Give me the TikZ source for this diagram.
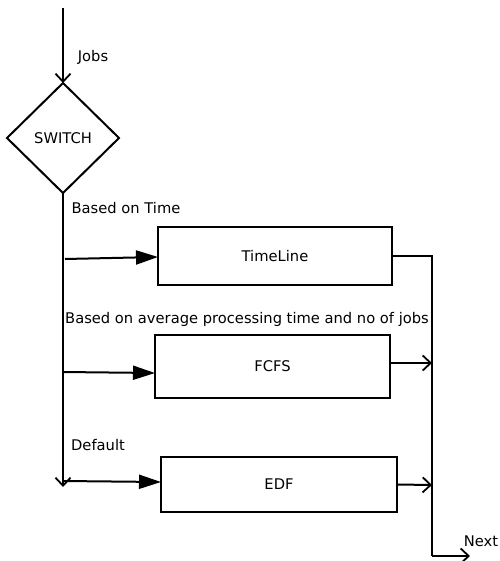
\documentclass[tikz,border=0pt]{standalone}
\usepackage{fontspec}
\setmainfont{DejaVu Sans}
\usetikzlibrary{arrows.meta,positioning,shapes.geometric}

\begin{document}
\begin{tikzpicture}[
        x=1pt, y=-1pt,
        font=\fontsize{14.7}{17}\selectfont,
        box/.style={rectangle,draw,line width=2pt,outer sep=0pt,align=center},
        decision/.style={diamond,draw,line width=2pt,inner sep=0pt,outer sep=0pt,minimum width=112pt,minimum height=110pt},
        label/.style={inner sep=0pt},
        flow/.style={line width=2pt},
        openarrow/.style={-{Straight Barb[length=8pt,width=15pt,line width=1.8pt]},line width=2pt},
        fillarrow/.style={-{Triangle[length=22pt,width=14pt]},line width=2pt}
    ]
        \useasboundingbox (0,0) rectangle (499,561);

        % input and switch
        \coordinate (start) at (63,8);
        \node[decision] (switch) at (63,138) {SWITCH};
        \node[label] (jobs) at (93,57) {Jobs};
        \draw[openarrow] (start) -- (switch.north);

        % queues
        \node[box,minimum width=234pt,minimum height=58pt] (timeline) at (275,256) {TimeLine};
        \node[box,minimum width=235pt,minimum height=63pt] (fcfs) at (272.5,366.5) {FCFS};
        \node[box,minimum width=236pt,minimum height=55pt] (edf) at (279,484.5) {EDF};

        \node[label] (ontime) at (126,208) {Based on Time};
        \node[label,anchor=west] (onavg) at (65,319) {Based on average processing time and no of jobs};
        \node[label] (default) at (98,445) {Default};

        % trunk
        \coordinate (trunkend) at (63,487);
        \draw[openarrow] (switch.south) -- (trunkend);

        \coordinate (t1) at (65,259);
        \coordinate (t2) at (63,372);
        \coordinate (t3) at (63,481);
        \draw[fillarrow] (t1) -- (timeline.west |- 0,257);
        \draw[fillarrow] (t2) -- (fcfs.west |- 0,373);
        \draw[fillarrow] (t3) -- (edf.west |- 0,482);

        % output bus
        \coordinate (bustop) at (432,256);
        \coordinate (busbot) at (432,556);
        \coordinate (next) at (470,556);
        \node[label] (nextlbl) at (481,541) {Next};
        \draw[flow] (timeline.east) -- (bustop) -- (busbot);
        \draw[openarrow] (busbot) -- (next);
        \draw[openarrow] (fcfs.east |- 0,363) -- (432,363);
        \draw[openarrow] (edf.east) -- (432,485);
    \end{tikzpicture}
\end{document}
